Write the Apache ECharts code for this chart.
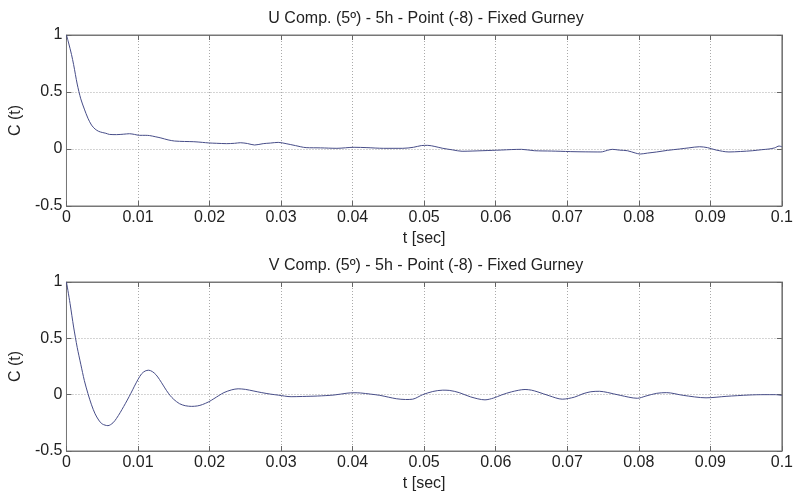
<!DOCTYPE html>
<html>
<head>
<meta charset="utf-8">
<script src="https://cdn.jsdelivr.net/npm/echarts@6/dist/echarts.min.js"></script>
<style>
html,body{margin:0;padding:0;background:#fff;}
#chart{width:796px;height:495px;}
</style>
</head>
<body>
<div id="chart"></div>
<script>
// ---- data ----
var titleU = 'U Comp. (5º) - 5h - Point (-8) - Fixed Gurney';
var titleV = 'V Comp. (5º) - 5h - Point (-8) - Fixed Gurney';
var xName = 't [sec]';
var yName = 'C (t)';

// U component autocorrelation: [t, C]
var uData = [
  [0,1],[0.0003,0.93],[0.0007,0.83],[0.001,0.74],[0.0015,0.57],[0.002,0.44],[0.0025,0.35],
  [0.003,0.27],[0.0035,0.21],[0.004,0.175],[0.0045,0.155],[0.005,0.145],[0.0055,0.138],
  [0.006,0.128],[0.007,0.126],[0.008,0.13],[0.0088,0.134],[0.0095,0.128],[0.0102,0.12],
  [0.011,0.12],[0.0116,0.118],[0.0124,0.108],[0.0132,0.097],[0.0142,0.08],[0.0151,0.07],
  [0.0165,0.066],[0.0178,0.064],[0.019,0.058],[0.0199,0.053],[0.021,0.05],[0.0224,0.047],
  [0.0235,0.05],[0.0243,0.055],[0.0253,0.048],[0.0263,0.035],[0.0275,0.047],[0.0285,0.052],
  [0.0296,0.058],[0.0307,0.047],[0.032,0.03],[0.0335,0.012],[0.0355,0.01],[0.0378,0.006],
  [0.0402,0.015],[0.042,0.012],[0.0443,0.006],[0.047,0.006],[0.0485,0.015],[0.0496,0.03],
  [0.0505,0.032],[0.0515,0.022],[0.0526,0.006],[0.054,-0.008],[0.0553,-0.02],[0.0567,-0.018],
  [0.0581,-0.015],[0.0595,-0.012],[0.0608,-0.009],[0.0622,-0.005],[0.0636,-0.003],[0.0654,-0.015],
  [0.0678,-0.018],[0.069,-0.02],[0.0705,-0.023],[0.0725,-0.025],[0.0747,-0.026],[0.0756,-0.012],
  [0.0763,-0.003],[0.0773,-0.01],[0.0784,-0.015],[0.0795,-0.035],[0.0802,-0.044],[0.0812,-0.036],
  [0.0825,-0.026],[0.084,-0.012],[0.0857,0],[0.087,0.01],[0.0885,0.02],[0.0896,0.012],
  [0.0908,-0.009],[0.0926,-0.026],[0.0942,-0.022],[0.0959,-0.015],[0.0972,-0.006],[0.0982,0],
  [0.099,0.01],[0.0996,0.026],[0.1,0.02]
];

// V component autocorrelation: [t, C]
var vData = [
  [0,1],[0.0005,0.81],[0.001,0.6],[0.0015,0.42],[0.002,0.27],[0.0025,0.125],[0.003,0.01],
  [0.0035,-0.09],[0.004,-0.17],[0.0045,-0.225],[0.005,-0.26],[0.0058,-0.275],[0.0065,-0.25],
  [0.007,-0.21],[0.0075,-0.16],[0.008,-0.105],[0.0085,-0.048],[0.009,0.012],[0.0095,0.075],
  [0.01,0.135],[0.0105,0.185],[0.011,0.21],[0.0115,0.217],[0.012,0.205],[0.0125,0.178],
  [0.013,0.135],[0.0135,0.085],[0.014,0.035],[0.0145,-0.008],[0.015,-0.042],[0.0158,-0.08],
  [0.0166,-0.098],[0.0175,-0.104],[0.0183,-0.1],[0.019,-0.088],[0.0199,-0.063],[0.0206,-0.036],
  [0.0213,-0.008],[0.022,0.018],[0.0231,0.043],[0.024,0.052],[0.025,0.047],[0.0262,0.032],
  [0.0273,0.018],[0.0285,0.005],[0.0296,-0.004],[0.0314,-0.018],[0.033,-0.016],[0.0351,-0.012],
  [0.0374,-0.003],[0.0392,0.013],[0.0402,0.017],[0.0411,0.015],[0.0425,0.005],[0.0438,-0.006],
  [0.045,-0.022],[0.0461,-0.036],[0.0474,-0.043],[0.0484,-0.04],[0.0498,0.0],[0.0512,0.028],
  [0.0526,0.04],[0.0535,0.038],[0.0549,0.018],[0.0565,-0.02],[0.0585,-0.046],[0.0597,-0.03],
  [0.0608,-0.003],[0.0622,0.025],[0.0641,0.046],[0.065,0.04],[0.0659,0.024],[0.0675,-0.01],
  [0.0693,-0.04],[0.071,-0.022],[0.0722,0.008],[0.0733,0.026],[0.0745,0.03],[0.0756,0.02],
  [0.0774,-0.006],[0.0798,-0.032],[0.081,-0.012],[0.0825,0.012],[0.0839,0.018],[0.0862,-0.006],
  [0.0894,-0.028],[0.0922,-0.015],[0.0954,-0.003],[0.0975,0.0],[0.0991,0.0],[0.1,-0.008]
];

// ---- chart ----
var FONT = 'Liberation Sans, Arial, sans-serif';
var TXT = '#222';
var FS = 16;
var chart = echarts.init(document.getElementById('chart'), null, {renderer: 'canvas'});

function xAxisCfg(idx) {
  return {
    type: 'value', gridIndex: idx, min: 0, max: 0.1, interval: 0.01, position: 'bottom',
    name: xName, nameLocation: 'middle', nameGap: 25,
    nameTextStyle: {fontFamily: FONT, fontSize: FS, color: TXT},
    axisLine: {show: true, onZero: false, lineStyle: {color: '#777', width: 1}},
    axisTick: {show: true, inside: true, length: 5, lineStyle: {color: '#666'}},
    axisLabel: {fontFamily: FONT, fontSize: FS, color: TXT, margin: 4},
    splitLine: {show: true, lineStyle: {type: [1, 2], color: '#aaa', width: 1}}
  };
}
function xTopCfg(idx) {
  return {
    type: 'value', gridIndex: idx, min: 0, max: 0.1, interval: 0.01, position: 'top',
    axisLine: {show: true, onZero: false, lineStyle: {color: '#777', width: 1}},
    axisTick: {show: true, inside: true, length: 5, lineStyle: {color: '#666'}},
    axisLabel: {show: false}, splitLine: {show: false}
  };
}
function yAxisCfg(idx) {
  return {
    type: 'value', gridIndex: idx, min: -0.5, max: 1, interval: 0.5, position: 'left',
    name: yName, nameLocation: 'middle', nameGap: 33, nameRotate: 90,
    nameTextStyle: {fontFamily: FONT, fontSize: FS, color: TXT},
    axisLine: {show: true, onZero: false, lineStyle: {color: '#777', width: 1}},
    axisTick: {show: true, inside: true, length: 5, lineStyle: {color: '#666'}},
    axisLabel: {fontFamily: FONT, fontSize: FS, color: TXT, margin: 4},
    splitLine: {show: true, lineStyle: {type: [1, 2], color: '#aaa', width: 1}}
  };
}
function yRightCfg(idx) {
  return {
    type: 'value', gridIndex: idx, min: -0.5, max: 1, interval: 0.5, position: 'right',
    axisLine: {show: true, onZero: false, lineStyle: {color: '#777', width: 1}},
    axisTick: {show: true, inside: true, length: 5, lineStyle: {color: '#666'}},
    axisLabel: {show: false}, splitLine: {show: false}
  };
}

var option = {
  backgroundColor: '#fff',
  animation: false,
  title: [
    {text: titleU, left: 421, top: 6, textAlign: 'center',
     textStyle: {fontFamily: FONT, fontSize: FS, fontWeight: 'normal', color: TXT}},
    {text: titleV, left: 421, top: 253, textAlign: 'center',
     textStyle: {fontFamily: FONT, fontSize: FS, fontWeight: 'normal', color: TXT}}
  ],
  grid: [
    {left: 59, top: 35, width: 724, height: 171, show: true, borderColor: '#777', borderWidth: 1, backgroundColor: '#fff'},
    {left: 59, top: 282, width: 724, height: 169, show: true, borderColor: '#777', borderWidth: 1, backgroundColor: '#fff'}
  ],
  xAxis: [xAxisCfg(0), xAxisCfg(1), xTopCfg(0), xTopCfg(1)],
  yAxis: [yAxisCfg(0), yAxisCfg(1), yRightCfg(0), yRightCfg(1)],
  series: [
    {type: 'line', xAxisIndex: 0, yAxisIndex: 0, data: uData, showSymbol: false, smooth: 0.3,
     lineStyle: {color: '#474d88', width: 1}},
    {type: 'line', xAxisIndex: 1, yAxisIndex: 1, data: vData, showSymbol: false, smooth: 0.3,
     lineStyle: {color: '#474d88', width: 1}}
  ]
};
chart.setOption(option);
</script>
</body>
</html>
